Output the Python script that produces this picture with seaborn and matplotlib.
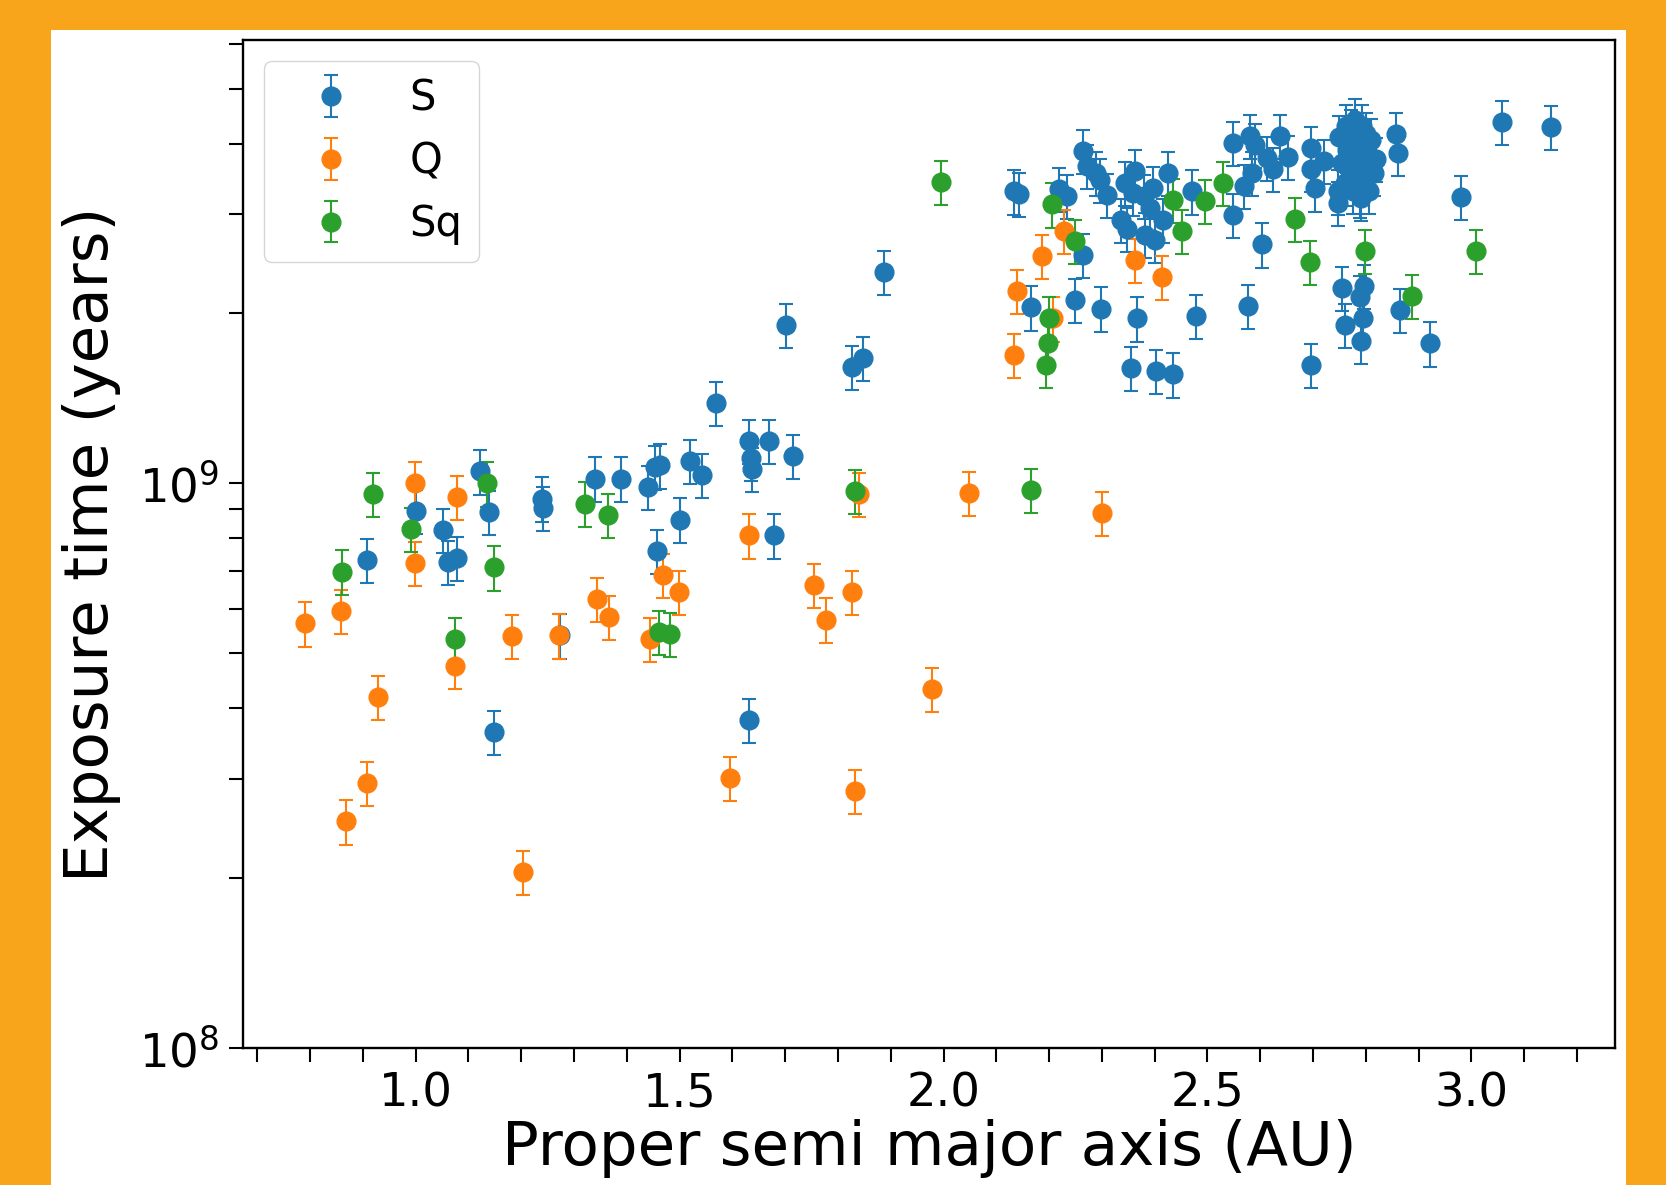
import numpy as np
import matplotlib
matplotlib.use("Agg")
import matplotlib.pyplot as plt
from matplotlib.patches import Rectangle
from matplotlib.ticker import MultipleLocator, LogLocator, NullFormatter
import seaborn as sns

# proper semi major axis (AU) and exposure time (years) per class
s_a = [0.908, 1.0, 1.051, 1.061, 1.079, 1.122, 1.138, 1.148, 1.24, 1.242,
       1.273, 1.339, 1.389, 1.44, 1.454, 1.462, 1.458, 1.50, 1.52, 1.542,
       1.568, 1.631, 1.635, 1.637, 1.631, 1.669, 1.679, 1.701, 1.715, 1.826,
       1.848, 1.888, 2.133, 2.142, 2.166, 2.218, 2.234, 2.249, 2.265, 2.265,
       2.271, 2.289, 2.297, 2.299, 2.309, 2.343, 2.363, 2.359, 2.355, 2.367,
       2.397, 2.379, 2.391, 2.337, 2.347, 2.381, 2.401, 2.415, 2.425, 2.403,
       2.435, 2.47, 2.478, 2.548, 2.548, 2.570, 2.576, 2.580, 2.584, 2.59,
       2.604, 2.612, 2.624, 2.637, 2.653, 2.697, 2.697, 2.697, 2.703, 2.721,
       2.747, 2.748, 2.755, 2.761, 2.789, 2.791, 2.795, 2.797, 2.857, 2.861,
       2.865, 2.922, 2.981, 3.057, 3.15,
       2.75, 2.755, 2.76, 2.762, 2.765, 2.77, 2.772, 2.775, 2.778, 2.78,
       2.782, 2.785, 2.788, 2.79, 2.792, 2.795, 2.798, 2.80, 2.805, 2.81,
       2.815, 2.82, 2.79, 2.80]
s_t = [7.32e8, 8.94e8, 8.26e8, 7.26e8, 7.38e8, 1.05e9, 8.9e8, 3.63e8, 9.4e8, 9.06e8,
       5.38e8, 1.02e9, 1.02e9, 9.87e8, 1.07e9, 1.076e9, 7.58e8, 8.63e8, 1.095e9, 1.035e9,
       1.39e9, 1.19e9, 1.11e9, 1.06e9, 3.81e8, 1.19e9, 8.09e8, 1.91e9, 1.12e9, 1.61e9,
       1.67e9, 2.37e9, 3.29e9, 3.26e9, 2.05e9, 3.32e9, 3.23e9, 2.11e9, 2.54e9, 3.88e9,
       3.65e9, 3.55e9, 3.45e9, 2.04e9, 3.24e9, 3.41e9, 3.57e9, 3.27e9, 1.60e9, 1.96e9,
       3.34e9, 3.23e9, 3.08e9, 2.93e9, 2.82e9, 2.76e9, 2.70e9, 2.93e9, 3.55e9, 1.58e9,
       1.56e9, 3.29e9, 1.98e9, 4.01e9, 2.99e9, 3.36e9, 2.06e9, 4.12e9, 3.55e9, 3.98e9,
       2.65e9, 3.77e9, 3.60e9, 4.12e9, 3.79e9, 3.93e9, 1.62e9, 3.60e9, 3.33e9, 3.73e9,
       3.14e9, 3.29e9, 2.22e9, 1.91e9, 2.14e9, 1.79e9, 1.96e9, 2.24e9, 4.16e9, 3.85e9,
       2.03e9, 1.77e9, 3.22e9, 4.37e9, 4.28e9,
       4.1e9, 3.7e9, 3.4e9, 4.3e9, 3.9e9, 3.6e9, 4.2e9, 3.3e9, 3.8e9, 4.4e9,
       3.5e9, 4.0e9, 3.25e9, 3.7e9, 4.3e9, 3.45e9, 3.9e9, 3.6e9, 3.3e9, 4.05e9,
       3.55e9, 3.75e9, 3.2e9, 4.15e9]

q_a = [0.790, 0.858, 0.868, 0.908, 0.928, 0.999, 0.999, 1.075, 1.079, 1.182,
       1.204, 1.271, 1.343, 1.367, 1.444, 1.468, 1.498, 1.595, 1.631, 1.754,
       1.778, 1.826, 1.832, 1.84, 1.979, 2.049, 2.134, 2.140, 2.186, 2.208,
       2.228, 2.301, 2.363, 2.413]
q_t = [5.65e8, 5.94e8, 2.52e8, 2.95e8, 4.19e8, 1.00e9, 7.23e8, 4.75e8, 9.45e8, 5.36e8,
       2.05e8, 5.38e8, 6.24e8, 5.80e8, 5.31e8, 6.89e8, 6.43e8, 3.01e8, 8.09e8, 6.60e8,
       5.74e8, 6.43e8, 2.85e8, 9.58e8, 4.32e8, 9.62e8, 1.69e9, 2.19e9, 2.53e9, 1.96e9,
       2.80e9, 8.86e8, 2.49e9, 2.32e9]

sq_a = [0.86, 0.92, 0.991, 1.075, 1.136, 1.148, 1.321, 1.365, 1.46, 1.482,
        1.832, 1.995, 2.166, 2.194, 2.198, 2.2, 2.206, 2.249, 2.434, 2.452,
        2.496, 2.530, 2.665, 2.695, 2.798, 2.888, 3.009]
sq_t = [6.98e8, 9.57e8, 8.30e8, 5.31e8, 1.00e9, 7.10e8, 9.21e8, 8.78e8, 5.46e8, 5.41e8,
        9.7e8, 3.42e9, 9.75e8, 1.62e9, 1.77e9, 1.96e9, 3.12e9, 2.69e9, 3.18e9, 2.80e9,
        3.16e9, 3.40e9, 2.94e9, 2.47e9, 2.58e9, 2.15e9, 2.58e9]

classes = ["S", "Q", "Sq"]
err_frac = 0.09

colors = sns.color_palette("tab10", 3)
data = [(s_a, s_t), (q_a, q_t), (sq_a, sq_t)]

fig = plt.figure(figsize=(16.66, 11.85), dpi=100)
fig.patch.set_facecolor("#F9A51B")
fig.add_artist(Rectangle((0.0306, 0.0), 0.9454, 0.9747, transform=fig.transFigure,
                         facecolor="white", edgecolor="none", zorder=0))
ax = fig.add_axes([0.1459, 0.1156, 0.8235, 0.8506])

for (a, t), name, c in zip(data, classes, colors):
    t = np.array(t)
    ax.errorbar(a, t, yerr=err_frac * t, fmt="o", color=c, markersize=13.5,
                elinewidth=1.5, capsize=4.7, capthick=1.5, label=name)

ax.set_yscale("log")
ax.set_ylim(1e8, 6.1e9)
ax.set_xlim(0.673, 3.272)
ax.xaxis.set_major_locator(MultipleLocator(0.5))
ax.xaxis.set_minor_locator(MultipleLocator(0.1))
ax.yaxis.set_minor_locator(LogLocator(base=10, subs=np.arange(2, 10)))
ax.yaxis.set_minor_formatter(NullFormatter())
ax.tick_params(which="both", length=10, width=1.5, labelsize=33.5, pad=7)

for sp in ax.spines.values():
    sp.set_linewidth(1.7)

ax.set_xlabel("Proper semi major axis (AU)", fontsize=44, labelpad=2)
ax.set_ylabel("Exposure time (years)", fontsize=44, labelpad=13)
ax.legend(loc="upper left", fontsize=30, handlelength=2.4, handletextpad=0.7)

fig.savefig("out.png", dpi=100, facecolor=fig.get_facecolor())
